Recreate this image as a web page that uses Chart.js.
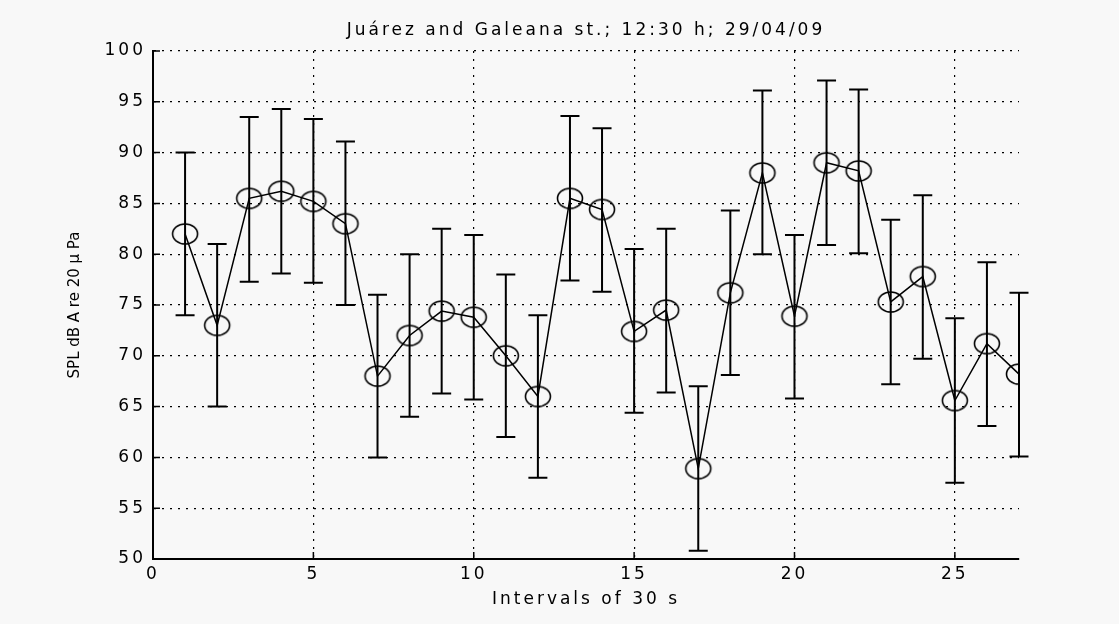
<!DOCTYPE html>
<html>
<head>
<meta charset="utf-8">
<script src="https://cdn.jsdelivr.net/npm/chart.js@4.4.0/dist/chart.umd.min.js"></script>
<style>
  html, body { margin: 0; padding: 0; background: #f8f8f8; }
</style>
</head>
<body>
<canvas id="myChart" width="1119" height="624"></canvas>
<script>

let intervals = [1, 2, 3, 4, 5, 6, 7, 8, 9, 10, 11, 12, 13, 14, 15, 16, 17, 18, 19, 20, 21, 22, 23, 24, 25, 26, 27];
let splMean = [82, 73, 85.5, 86.2, 85.2, 83, 68, 72, 74.4, 73.8, 70, 66, 85.5, 84.4, 72.4, 74.5, 58.9, 76.2, 88, 73.9, 89, 88.2, 75.3, 77.8, 65.6, 71.2, 68.2];
let splLow = [74, 65, 77.3, 78.1, 77.2, 75, 60, 64, 66.3, 65.7, 62, 58, 77.4, 76.3, 64.4, 66.4, 50.8, 68.1, 80, 65.8, 80.9, 80.1, 67.2, 69.7, 57.5, 63.1, 60.1];
let splHigh = [90, 81, 93.5, 94.3, 93.3, 91.1, 76, 80, 82.5, 81.9, 78, 74, 93.6, 92.4, 80.5, 82.5, 67, 84.3, 96.1, 81.9, 97.1, 96.2, 83.4, 85.8, 73.7, 79.2, 76.2];
let yTicks = [50, 55, 60, 65, 70, 75, 80, 85, 90, 95, 100];

let fontName = "'DejaVu Sans', sans-serif";
let wide = '3px';

// hollow ellipse marker (the figure is stretched sideways)
let marker = document.createElement('canvas');
marker.width = 30;
marker.height = 24;
let mctx = marker.getContext('2d');
mctx.strokeStyle = '#000';
mctx.lineWidth = 1.6;
mctx.beginPath();
mctx.ellipse(15, 12, 12.5, 10, 0, 0, Math.PI * 2);
mctx.stroke();

let spacing = {
  id: 'spacing',
  beforeUpdate(chart) { chart.ctx.letterSpacing = wide; },
  beforeLayout(chart) { chart.ctx.letterSpacing = wide; },
  afterLayout(chart) {
    // y title is not stretched in the original, draw it without spacing
    let ys = chart.scales.y;
    if (!ys._plainTitle) {
      let orig = ys.drawTitle.bind(ys);
      ys.drawTitle = function() {
        let c = chart.ctx;
        c.letterSpacing = '0px';
        orig();
        c.letterSpacing = wide;
      };
      ys._plainTitle = true;
    }
  },
  beforeDraw(chart) {
    let ctx = chart.ctx;
    ctx.save();
    ctx.fillStyle = '#f8f8f8';
    ctx.fillRect(0, 0, chart.width, chart.height);
    ctx.restore();
    ctx.letterSpacing = wide;
  }
};

let errorBars = {
  id: 'errorBars',
  beforeDatasetsDraw(chart) {
    let ctx = chart.ctx;
    let x = chart.scales.x;
    let y = chart.scales.y;
    ctx.save();
    ctx.strokeStyle = '#000';
    ctx.lineWidth = 2;
    intervals.forEach((v, i) => {
      let px = x.getPixelForValue(v);
      let top = y.getPixelForValue(splHigh[i]);
      let bot = y.getPixelForValue(splLow[i]);
      ctx.beginPath();
      ctx.moveTo(px, top);
      ctx.lineTo(px, bot);
      ctx.moveTo(px - 9.5, top);
      ctx.lineTo(px + 9.5, top);
      ctx.moveTo(px - 9.5, bot);
      ctx.lineTo(px + 9.5, bot);
      ctx.stroke();
    });
    ctx.restore();
  }
};

// matlab style ticks pointing into the plot
let innerTicks = {
  id: 'innerTicks',
  afterDraw(chart) {
    let ctx = chart.ctx;
    let x = chart.scales.x;
    let y = chart.scales.y;
    let area = chart.chartArea;
    ctx.save();
    ctx.strokeStyle = '#000';
    ctx.lineWidth = 1.5;
    ctx.beginPath();
    x.ticks.forEach(t => {
      let px = x.getPixelForValue(t.value);
      ctx.moveTo(px, area.bottom);
      ctx.lineTo(px, area.bottom - 7);
    });
    y.ticks.forEach(t => {
      let py = y.getPixelForValue(t.value);
      ctx.moveTo(area.left, py);
      ctx.lineTo(area.left + 7, py);
    });
    ctx.stroke();
    ctx.restore();
  }
};

let ctx = document.getElementById('myChart').getContext('2d');

let myChart = new Chart(ctx, {
  type: 'line',
  data: {
    datasets: [{
      data: intervals.map((v, i) => ({ x: v, y: splMean[i] })),
      borderColor: '#000',
      borderWidth: 1.5,
      pointStyle: marker,
      pointRadius: 12,
      tension: 0,
      fill: false
    }]
  },
  options: {
    responsive: false,
    animation: false,
    layout: {
      padding: { left: 0, right: 100, top: 0, bottom: 0 }
    },
    plugins: {
      legend: { display: false },
      tooltip: { enabled: false },
      title: {
        display: true,
        fullSize: false,
        text: 'Juárez and Galeana st.; 12:30 h; 29/04/09',
        color: '#000',
        font: { family: fontName, size: 17, weight: 'normal', lineHeight: 1.2 },
        padding: { top: 20, bottom: 10.6 }
      }
    },
    scales: {
      x: {
        type: 'linear',
        min: 0,
        max: 27,
        afterFit: (s) => { s.height = 65; },
        ticks: {
          stepSize: 5,
          includeBounds: false,
          color: '#000',
          padding: 5,
          maxRotation: 0,
          font: { family: fontName, size: 17, lineHeight: 1.2 }
        },
        grid: {
          color: '#000',
          lineWidth: 1.2,
          drawTicks: false
        },
        border: {
          color: '#000',
          width: 2,
          dash: [2, 6]
        },
        title: {
          display: true,
          text: 'Intervals of 30 s',
          color: '#000',
          font: { family: fontName, size: 17, lineHeight: 1.2 },
          padding: { top: 0, bottom: 14 }
        }
      },
      y: {
        min: 50,
        max: 100,
        afterFit: (s) => { s.width = 153; },
        afterBuildTicks: (s) => { s.ticks = yTicks.map(v => ({ value: v })); },
        ticks: {
          color: '#000',
          padding: 7,
          font: { family: fontName, size: 17, lineHeight: 1.2 }
        },
        grid: {
          color: '#000',
          lineWidth: 1.2,
          drawTicks: false
        },
        border: {
          color: '#000',
          width: 2,
          dash: [2, 6]
        },
        title: {
          display: true,
          text: 'SPL dB A re 20 µ Pa',
          color: '#000',
          font: { family: fontName, size: 15, lineHeight: 1.2 },
          padding: { top: 66, bottom: 0 }
        }
      }
    }
  },
  plugins: [spacing, errorBars, innerTicks]
});
</script>
</body>
</html>
